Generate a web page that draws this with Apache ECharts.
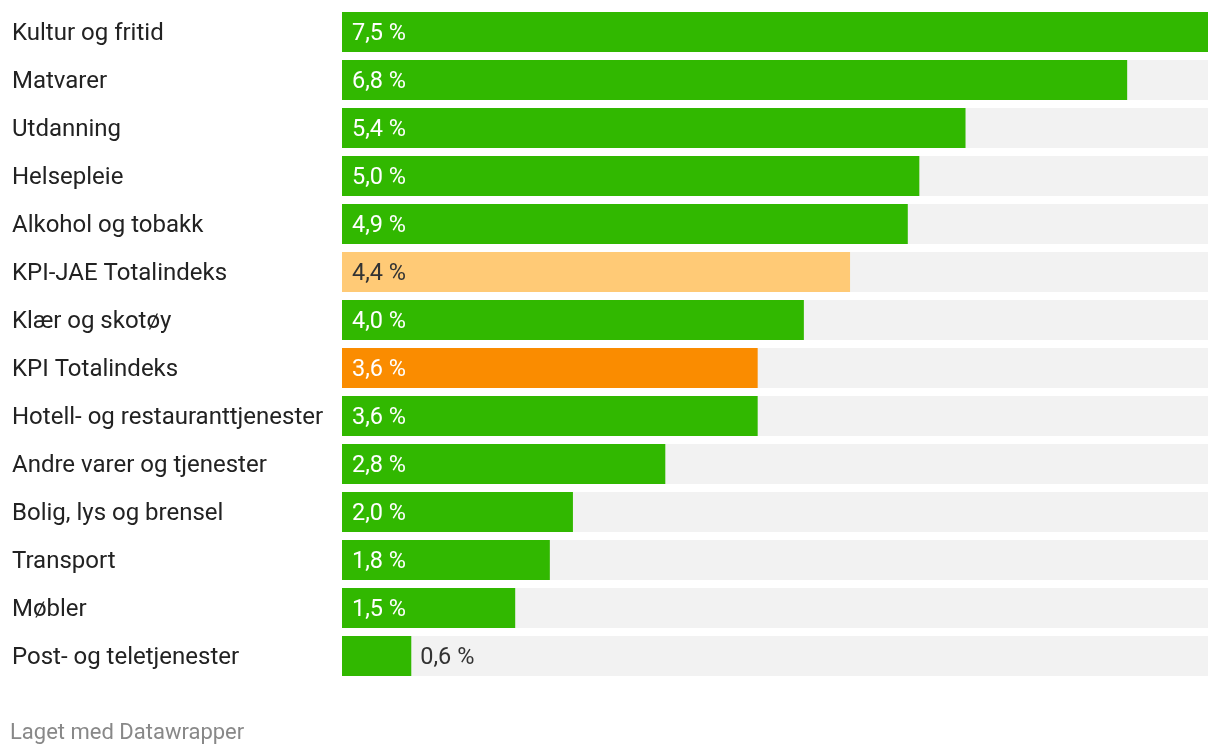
<!DOCTYPE html>
<html>
<head>
<meta charset="utf-8">
<style>
html,body{margin:0;padding:0;background:#fff;}
#chart{width:1220px;height:754px;}
</style>
<script src="https://cdn.jsdelivr.net/npm/echarts@6/dist/echarts.min.js"></script>
</head>
<body>
<div id="chart"></div>
<script>
const categories = ["Kultur og fritid","Matvarer","Utdanning","Helsepleie","Alkohol og tobakk","KPI-JAE Totalindeks","Klær og skotøy","KPI Totalindeks","Hotell- og restauranttjenester","Andre varer og tjenester","Bolig, lys og brensel","Transport","Møbler","Post- og teletjenester"];
const values = [7.5,6.8,5.4,5.0,4.9,4.4,4.0,3.6,3.6,2.8,2.0,1.8,1.5,0.6];
const footer = "Laget med Datawrapper";

const GREEN = "#31b800", LIGHT = "#ffca76", ORANGE = "#fa8c00";
function colorFor(name){
  if (name === "KPI-JAE Totalindeks") return LIGHT;
  if (name === "KPI Totalindeks") return ORANGE;
  return GREEN;
}
const fmt = v => v.toFixed(1).replace('.', ',') + ' %';

const data = values.map((v, i) => {
  const c = colorFor(categories[i]);
  const small = v < 1;
  return {
    value: v,
    itemStyle: { color: c },
    label: small
      ? { position: 'right', distance: 9, color: '#333' }
      : { position: 'insideLeft', distance: 10, color: c === LIGHT ? '#333' : '#fff' }
  };
});

const chart = echarts.init(document.getElementById('chart'));
chart.setOption({
  animation: false,
  textStyle: { fontFamily: 'Roboto' },
  grid: { left: 342, right: 12, top: 8, bottom: 74, containLabel: false },
  title: {
    text: footer, left: 5, top: 717,
    textStyle: { fontFamily: 'Roboto', fontSize: 22, fontWeight: 'normal', color: '#888' }
  },
  xAxis: { type: 'value', min: 0, max: 7.5, show: false },
  yAxis: {
    type: 'category', data: categories, inverse: true,
    axisLine: { show: false }, axisTick: { show: false },
    axisLabel: {
      align: 'left', margin: 330,
      formatter: v => '{a|' + v + '}',
      rich: { a: { fontFamily: 'Roboto', fontSize: 24, color: '#222', padding: [4, 0, 0, 0] } }
    }
  },
  series: [{
    type: 'bar', data: data, barWidth: 40,
    showBackground: true,
    backgroundStyle: { color: '#f2f2f2' },
    label: { show: true, formatter: p => fmt(p.value), fontFamily: 'Roboto', fontSize: 23.5, offset: [0, 2] }
  }]
});
</script>
</body>
</html>
